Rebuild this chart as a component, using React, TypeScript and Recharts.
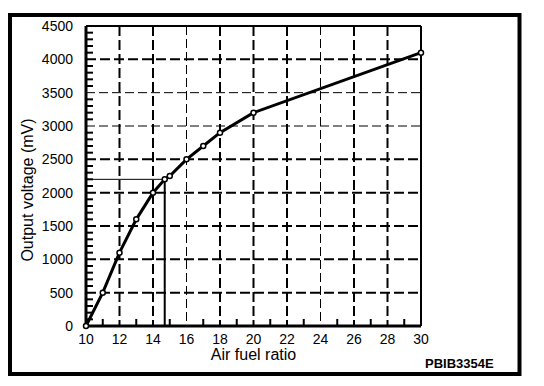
import React from 'react';
import { LineChart, Line, XAxis, YAxis, CartesianGrid, ReferenceLine } from 'recharts';

// readings
const airFuelRatio = [10, 11, 12, 13, 14, 14.7, 15, 16, 17, 18, 20, 30];
const outputMv = [0, 500, 1100, 1600, 2000, 2200, 2250, 2500, 2700, 2900, 3200, 4100];

// every unit / every 100 mV gets a mark; only these get a number
const xTicks = [10, 11, 12, 13, 14, 15, 16, 17, 18, 19, 20, 21, 22, 23, 24, 25, 26, 27, 28, 29, 30];
const xLabels = [10, 12, 14, 16, 18, 20, 22, 24, 26, 28, 30];
const yTicks = [
  0, 100, 200, 300, 400, 500, 600, 700, 800, 900, 1000, 1100, 1200, 1300, 1400, 1500,
  1600, 1700, 1800, 1900, 2000, 2100, 2200, 2300, 2400, 2500, 2600, 2700, 2800, 2900, 3000,
  3100, 3200, 3300, 3400, 3500, 3600, 3700, 3800, 3900, 4000, 4100, 4200, 4300, 4400, 4500,
];
const yLabels = [0, 500, 1000, 1500, 2000, 2500, 3000, 3500, 4000, 4500];

// the scan has some grid lines drawn lighter than others
const thickGridX = [12, 14, 18, 20, 22, 26, 28];
const thinGridX = [16, 24];
const thickGridY = [500, 1000, 1500, 2000, 2500, 4000];
const thinGridY = [3000, 3500];

const stoichRatio = 14.7;
const stoichMv = 2200;

const data = airFuelRatio.map((x, i) => ({ x, mv: outputMv[i] }));

const FONT = '"Liberation Sans", Arial, Helvetica, sans-serif';
const X_GAP = 8;
const Y_GAP = 13;
const MARK = 7;

// labels on the even values, short inward marks on the rest
const XTick = (props: any) => {
  const { x, y, payload } = props;
  const v = payload.value;
  const axisY = y - X_GAP;
  return (
    <g>
      {xLabels.includes(v) ? (
        <text x={x} y={y} dy="0.71em" textAnchor="middle" fontSize={14} fontFamily={FONT} fill="#000">
          {v}
        </text>
      ) : (
        <path d={`M${x},${axisY}V${axisY - MARK}`} stroke="#000" strokeWidth={2} fill="none" />
      )}
    </g>
  );
};

const YTick = (props: any) => {
  const { x, y, payload } = props;
  const v = payload.value;
  const axisX = x + Y_GAP;
  return (
    <g>
      {yLabels.includes(v) ? (
        <text x={x} y={y} dy="0.355em" textAnchor="end" fontSize={14} fontFamily={FONT} fill="#000">
          {v}
        </text>
      ) : (
        <path d={`M${axisX},${y}H${axisX + MARK}`} stroke="#000" strokeWidth={2} fill="none" />
      )}
    </g>
  );
};

export default function App() {
  return (
    <div style={{ position: 'relative', width: 528, height: 370 }}>
      <LineChart
        width={528}
        height={370}
        data={data}
        margin={{ top: 18, right: 115, bottom: 12, left: 0 }}
        style={{ position: 'absolute', left: 0, top: 0 }}
      >
        <CartesianGrid
          horizontalValues={thickGridY}
          verticalValues={thickGridX}
          stroke="#000"
          strokeWidth={2}
          strokeDasharray="10 4"
        />
        <CartesianGrid
          horizontalValues={thinGridY}
          verticalValues={thinGridX}
          stroke="#000"
          strokeWidth={1}
          strokeDasharray="9 4"
        />
        <ReferenceLine y={4500} stroke="#000" strokeWidth={2} />
        <ReferenceLine x={30} stroke="#000" strokeWidth={2} />
        <ReferenceLine
          segment={[{ x: 10, y: stoichMv }, { x: stoichRatio, y: stoichMv }]}
          stroke="#000"
          strokeWidth={1}
        />
        <ReferenceLine
          segment={[{ x: stoichRatio, y: 0 }, { x: stoichRatio, y: stoichMv }]}
          stroke="#000"
          strokeWidth={2}
        />
        <XAxis
          dataKey="x"
          type="number"
          domain={[10, 30]}
          ticks={xTicks}
          interval={0}
          height={40}
          tickSize={0}
          tickMargin={X_GAP}
          axisLine={{ stroke: '#000', strokeWidth: 3 }}
          tickLine={false}
          tick={XTick}
        />
        <YAxis
          type="number"
          domain={[0, 4500]}
          ticks={yTicks}
          interval={0}
          width={78}
          tickSize={0}
          tickMargin={Y_GAP}
          axisLine={{ stroke: '#000', strokeWidth: 3 }}
          tickLine={false}
          tick={YTick}
        />
        <Line
          type="linear"
          dataKey="mv"
          stroke="#000"
          strokeWidth={3}
          dot={{ r: 2.5, fill: '#fff', stroke: '#000', strokeWidth: 1.5 }}
          isAnimationActive={false}
        />
      </LineChart>
      <svg
        width={528}
        height={370}
        style={{ position: 'absolute', left: 0, top: 0, pointerEvents: 'none' }}
      >
        <rect x={2} y={7} width={509.5} height={359} fill="none" stroke="#000" strokeWidth={4} />
        <text x={245.5} y={352} textAnchor="middle" fontSize={16} fontFamily={FONT} fill="#000">
          Air fuel ratio
        </text>
        <text
          transform="translate(25,182) rotate(-90)"
          textAnchor="middle"
          fontSize={16}
          fontFamily={FONT}
          fill="#000"
        >
          Output voltage (mV)
        </text>
        <text x={417} y={360} fontSize={13} fontWeight="bold" fontFamily={FONT} fill="#000">
          PBIB3354E
        </text>
      </svg>
    </div>
  );
}
